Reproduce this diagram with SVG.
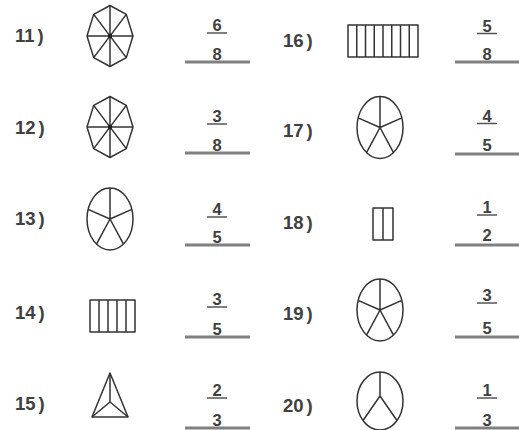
<svg xmlns="http://www.w3.org/2000/svg" width="519" height="430" viewBox="0 0 519 430">
<style>
.lbl{font-family:"Liberation Sans",Arial,sans-serif;font-size:18.5px;font-weight:bold;fill:#404040;}
.num{font-family:"Liberation Sans",Arial,sans-serif;font-size:16.5px;font-weight:bold;fill:#404040;text-anchor:middle;}
.shp{fill:none;stroke:#333;stroke-width:1.5;stroke-linejoin:round;}
.bar{stroke:#555;stroke-width:1.5;}
.ans{stroke:#808080;stroke-width:3;}
</style>
<defs>
<g id="oct">
<polygon class="shp" points="0,-30.5 16.3,-21.6 23,0 16.3,21.6 0,30.5 -16.3,21.6 -23,0 -16.3,-21.6"/>
<path class="shp" d="M0,-30.5V30.5M-23,0H23M-16.3,-21.6L16.3,21.6M16.3,-21.6L-16.3,21.6"/>
<rect x="-2" y="-2" width="4" height="4" fill="#222"/>
</g>
<g id="five">
<ellipse class="shp" cx="0" cy="0" rx="23" ry="31"/>
<path class="shp" d="M0,0V-31M0,0L21.9,-9.6M0,0L13.5,25.1M0,0L-13.5,25.1M0,0L-21.9,-9.6"/>
</g>
</defs>

<g id="item11">
<text class="lbl" x="15" y="41.5">11<tspan dx="3">)</tspan></text>
<use href="#oct" transform="translate(110,36)"/>
<text class="num" x="217" y="31">6</text>
<line class="bar" x1="207" y1="33" x2="227" y2="33"/>
<text class="num" x="217" y="59.5">8</text>
<line class="ans" x1="185" y1="62" x2="250" y2="62"/>
</g>

<g id="item12">
<text class="lbl" x="15" y="133.5">12<tspan dx="3">)</tspan></text>
<use href="#oct" transform="translate(110,127)"/>
<text class="num" x="217" y="122">3</text>
<line class="bar" x1="207" y1="124" x2="227" y2="124"/>
<text class="num" x="217" y="150.5">8</text>
<line class="ans" x1="185" y1="153" x2="250" y2="153"/>
</g>

<g id="item13">
<text class="lbl" x="15" y="224.5">13<tspan dx="3">)</tspan></text>
<use href="#five" transform="translate(110,219)"/>
<text class="num" x="217" y="215">4</text>
<line class="bar" x1="207" y1="217" x2="227" y2="217"/>
<text class="num" x="217" y="242.5">5</text>
<line class="ans" x1="185" y1="245" x2="250" y2="245"/>
</g>

<g id="item14">
<text class="lbl" x="15" y="318.5">14<tspan dx="3">)</tspan></text>
<rect class="shp" x="90" y="300" width="45" height="32"/>
<path class="shp" d="M99,300V332M108,300V332M117,300V332M126,300V332"/>
<text class="num" x="217" y="305">3</text>
<line class="bar" x1="207" y1="307" x2="227" y2="307"/>
<text class="num" x="217" y="334.5">5</text>
<line class="ans" x1="185" y1="337" x2="250" y2="337"/>
</g>

<g id="item15">
<text class="lbl" x="15" y="409.5">15<tspan dx="3">)</tspan></text>
<polygon class="shp" points="110,373 128,417 92,417"/>
<path class="shp" d="M110,373L110,402M110,402L92,417M110,402L128,417"/>
<text class="num" x="217" y="396">2</text>
<line class="bar" x1="207" y1="398" x2="227" y2="398"/>
<text class="num" x="217" y="425.5">3</text>
<line class="ans" x1="185" y1="428" x2="250" y2="428"/>
</g>

<g id="item16">
<text class="lbl" x="283" y="46.5">16<tspan dx="3">)</tspan></text>
<rect class="shp" x="348" y="25" width="70" height="32"/>
<path class="shp" d="M356.75,25V57M365.5,25V57M374.25,25V57M383,25V57M391.75,25V57M400.5,25V57M409.25,25V57"/>
<text class="num" x="487" y="31.5">5</text>
<line class="bar" x1="477" y1="33.5" x2="497" y2="33.5"/>
<text class="num" x="487" y="59.5">8</text>
<line class="ans" x1="455" y1="62" x2="519" y2="62"/>
</g>

<g id="item17">
<text class="lbl" x="283" y="136.5">17<tspan dx="3">)</tspan></text>
<use href="#five" transform="translate(380,127.5)"/>
<text class="num" x="487" y="121.5">4</text>
<line class="bar" x1="477" y1="123.5" x2="497" y2="123.5"/>
<text class="num" x="487" y="151">5</text>
<line class="ans" x1="455" y1="154" x2="519" y2="154"/>
</g>

<g id="item18">
<text class="lbl" x="283" y="228.5">18<tspan dx="3">)</tspan></text>
<rect class="shp" x="373" y="208" width="20" height="32"/>
<path class="shp" d="M383,208V240"/>
<text class="num" x="487" y="213">1</text>
<line class="bar" x1="477" y1="215" x2="497" y2="215"/>
<text class="num" x="487" y="241">2</text>
<line class="ans" x1="455" y1="245" x2="519" y2="245"/>
</g>

<g id="item19">
<text class="lbl" x="283" y="319.5">19<tspan dx="3">)</tspan></text>
<use href="#five" transform="translate(380,310)"/>
<text class="num" x="487" y="301">3</text>
<line class="bar" x1="477" y1="303" x2="497" y2="303"/>
<text class="num" x="487" y="333.5">5</text>
<line class="ans" x1="455" y1="337" x2="519" y2="337"/>
</g>

<g id="item20">
<text class="lbl" x="283" y="411.5">20<tspan dx="3">)</tspan></text>
<ellipse class="shp" cx="380" cy="401" rx="23" ry="29"/>
<path class="shp" d="M380,396V372M380,396L363,420.5M380,396L397,420.5"/>
<text class="num" x="487" y="396">1</text>
<line class="bar" x1="477" y1="398" x2="497" y2="398"/>
<text class="num" x="487" y="425.5">3</text>
<line class="ans" x1="455" y1="428" x2="519" y2="428"/>
</g>
</svg>
